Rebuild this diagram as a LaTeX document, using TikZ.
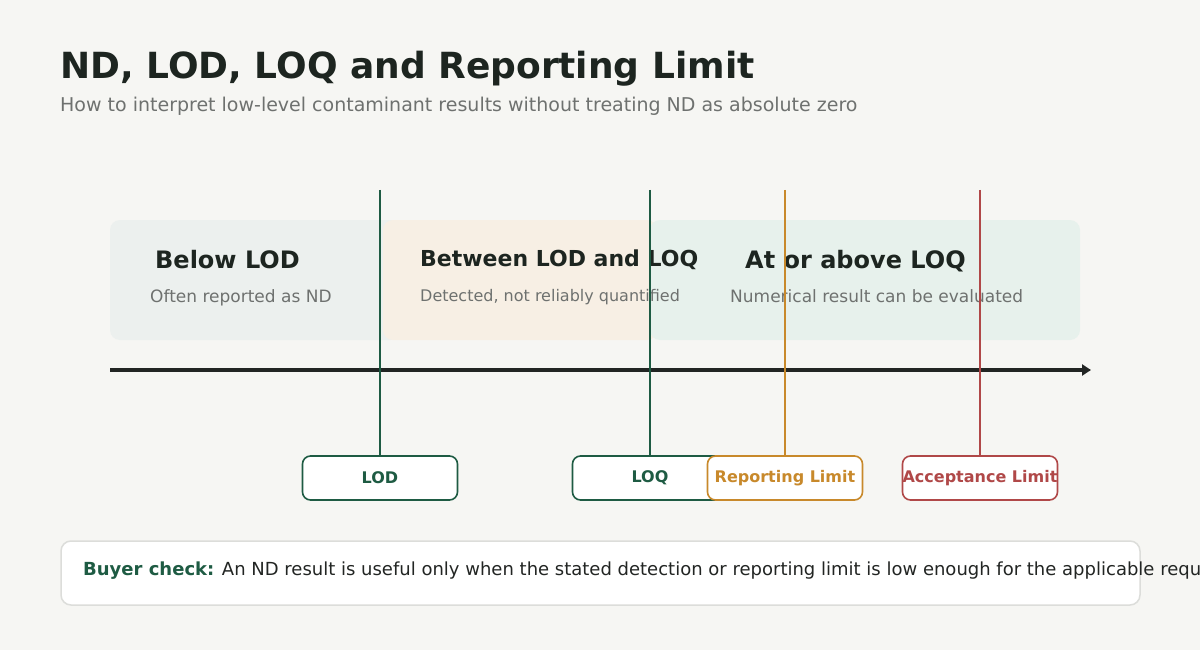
\documentclass[tikz,border=0pt]{standalone}
\usepackage{fontspec}
\setmainfont{DejaVu Sans}
\usetikzlibrary{arrows.meta}
\definecolor{bg}{HTML}{F6F6F3}
\definecolor{cgreen}{HTML}{1E5B43}
\definecolor{corange}{HTML}{C8892B}
\definecolor{cred}{HTML}{B04848}
\definecolor{bandA}{HTML}{ECF0EE}
\definecolor{bandB}{HTML}{F7EFE4}
\definecolor{bandC}{HTML}{E7F1EC}
\definecolor{ctitle}{HTML}{1D2520}
\definecolor{cgrey}{HTML}{6E716F}
\definecolor{cdark}{HTML}{222523}
\definecolor{cborder}{HTML}{DCDDDA}
\tikzset{
  band/.style={rounded corners=10pt, draw=none},
  bandtitle/.style={anchor=base west, inner sep=0pt, font=\fontsize{24}{28}\selectfont\bfseries, text=ctitle},
  bandsub/.style={anchor=base west, inner sep=0pt, font=\fontsize{17}{20}\selectfont, text=cgrey},
  marker/.style={line width=2.7pt},
  limitbox/.style={draw, line width=1.6pt, fill=white, rounded corners=8pt, minimum width=155pt, minimum height=44pt, inner sep=0pt, font=\fontsize{16}{19}\selectfont\bfseries},
}
\begin{document}
\begin{tikzpicture}[x=1pt,y=-1pt]
\fill[bg] (0,0) rectangle (1200,650);
\useasboundingbox (0,0) rectangle (1200,650);
\clip (0,0) rectangle (1200,650);

% title
\node[anchor=base west, inner sep=0pt, font=\fontsize{36}{42}\selectfont\bfseries, text=ctitle] (title) at (60,79) {ND, LOD, LOQ and Reporting Limit};
\node[anchor=base west, inner sep=0pt, font=\fontsize{19}{23}\selectfont, text=cgrey] (subtitle) at (60,112) {How to interpret low-level contaminant results without treating ND as absolute zero};

% bands
\fill[band, bandA] (110,220) rectangle (400,340);
\fill[band, bandB] (383,220) rectangle (657,340);
\fill[band, bandC] (650,220) rectangle (1080,340);

\node[bandtitle] (t1) at (155,268) {Below LOD};
\node[bandsub] (s1) at (150,302) {Often reported as ND};
\node[bandtitle, font=\fontsize{22}{26}\selectfont\bfseries] (t2) at (420,266) {Between LOD and LOQ};
\node[bandsub, font=\fontsize{16}{19}\selectfont] (s2) at (420,301) {Detected, not reliably quantified};
\node[bandtitle] (t3) at (745,268) {At or above LOQ};
\node[bandsub] (s3) at (730,302) {Numerical result can be evaluated};

% axis
\coordinate (axs) at (110,370);
\coordinate (axe) at (1091,370);
\draw[line width=3.5pt, cdark, -{Triangle[length=9pt,width=11pt]}] (axs) -- (axe);

% limit boxes
\node[limitbox, draw=cgreen, text=cgreen] (lod) at (380,478) {LOD};
\node[limitbox, draw=cgreen, text=cgreen] (loq) at (650,478) {LOQ};
\node[limitbox, draw=corange, text=corange] (rl) at (785,478) {Reporting Limit};
\node[limitbox, draw=cred, text=cred] (al) at (980,478) {Acceptance Limit};

% marker lines
\coordinate (lodtop) at (380,190);
\coordinate (loqtop) at (650,190);
\coordinate (rltop) at (785,190);
\coordinate (altop) at (980,190);
\draw[marker, cgreen] (lodtop) -- (lod.north);
\draw[marker, cgreen] (loqtop) -- (loq.north);
\draw[marker, corange] (rltop) -- (rl.north);
\draw[marker, cred] (altop) -- (al.north);

% buyer check
\draw[cborder, line width=1.5pt, fill=white, rounded corners=10pt] (61,541) rectangle (1140,605);
\node[anchor=base west, inner sep=0pt, font=\fontsize{18}{21}\selectfont, text=cdark] (buyer) at (83,575) {\textcolor{cgreen}{\bfseries Buyer check:} An ND result is useful only when the stated detection or reporting limit is low enough for the applicable requirement.};
\end{tikzpicture}
\end{document}
